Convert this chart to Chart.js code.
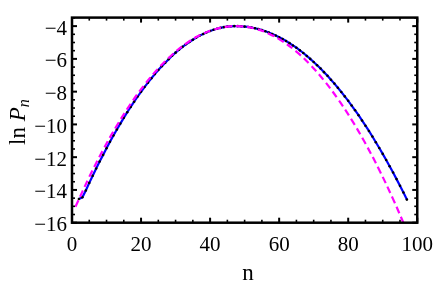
<!DOCTYPE html>
<html><head><meta charset="utf-8">
<script src="https://cdn.jsdelivr.net/npm/chart.js@4/dist/chart.umd.min.js"></script>
<style>html,body{margin:0;padding:0;background:#fff;}#wrap{width:443px;height:286px;position:relative;}</style>
</head><body><div id="wrap"><canvas id="c" width="443" height="286"></canvas></div>
<script>
// n values of the computed distribution (blue, with dots)
const blueN = [2,3,4,5,6,7,8,9,10,11,12,13,14,15,16,17,18,19,20,21,22,23,24,25,26,27,28,29,30,31,32,33,34,35,36,37,38,39,40,41,42,43,44,45,46,47,48,49,50,51,52,53,54,55,56,57,58,59,60,61,62,63,64,65,66,67,68,69,70,71,72,73,74,75,76,77,78,79,80,81,82,83,84,85,86,87,88,89,90,91,92,93,94,95,96,97];
const blueLnP = [-14.55,-14.45,-14.03,-13.57,-13.13,-12.69,-12.27,-11.86,-11.45,-11.06,-10.68,-10.31,-9.95,-9.60,-9.26,-8.93,-8.61,-8.30,-8.01,-7.72,-7.45,-7.18,-6.93,-6.68,-6.45,-6.23,-6.02,-5.81,-5.62,-5.44,-5.27,-5.11,-4.97,-4.83,-4.70,-4.58,-4.48,-4.38,-4.30,-4.22,-4.16,-4.11,-4.06,-4.03,-4.01,-4.00,-4.00,-4.01,-4.03,-4.05,-4.09,-4.13,-4.18,-4.24,-4.31,-4.39,-4.48,-4.57,-4.68,-4.79,-4.91,-5.04,-5.18,-5.32,-5.48,-5.64,-5.82,-6.00,-6.19,-6.39,-6.59,-6.81,-7.03,-7.27,-7.51,-7.76,-8.02,-8.29,-8.56,-8.85,-9.14,-9.44,-9.76,-10.08,-10.40,-10.74,-11.09,-11.44,-11.80,-12.17,-12.55,-12.94,-13.34,-13.75,-14.16,-14.59];
// Gaussian approximation (magenta dashed)
const gaussN = [1,5,9,13,17,21,25,29,33,37,41,45,49,53,57,61,65,69,73,77,81,85,89,93,97];
const gaussLnP = [-15.03,-13.21,-11.56,-10.07,-8.74,-7.58,-6.58,-5.75,-5.07,-4.56,-4.22,-4.03,-4.01,-4.15,-4.46,-4.93,-5.56,-6.36,-7.32,-8.44,-9.72,-11.17,-12.78,-14.56,-16.50];
// ticks
const xTicks = [0,20,40,60,80,100];
const xTickLabels = ['0','20','40','60','80','100'];
const xMinor = [5,10,15,25,30,35,45,50,55,65,70,75,85,90,95];
const yTicks = [-16,-14,-12,-10,-8,-6,-4];
const yTickLabels = ['\u221216','\u221214','\u221212','\u221210','\u22128','\u22126','\u22124'];
const yMinor = [-15.5,-15,-14.5,-13.5,-13,-12.5,-11.5,-11,-10.5,-9.5,-9,-8.5,-7.5,-7,-6.5,-5.5,-5,-4.5,-3.5];
const xTitle = 'n';

const FONT = "'Liberation Serif','Times New Roman',serif";

const framePlugin = {
  id: 'frame',
  afterDraw(chart) {
    const {ctx, chartArea: a, scales: {x, y}} = chart;
    ctx.save();
    ctx.strokeStyle = '#000';
    const seg = (x1, y1, x2, y2) => { ctx.beginPath(); ctx.moveTo(x1, y1); ctx.lineTo(x2, y2); ctx.stroke(); };
    ctx.lineWidth = 2;
    for (const v of xTicks) { const p = x.getPixelForValue(v); seg(p, a.bottom, p, a.bottom - 5); seg(p, a.top, p, a.top + 5); }
    for (const v of yTicks) { const p = y.getPixelForValue(v); seg(a.left, p, a.left + 5, p); seg(a.right, p, a.right - 5, p); }
    ctx.lineWidth = 1.6;
    for (const v of xMinor) { const p = x.getPixelForValue(v); seg(p, a.bottom, p, a.bottom - 3); seg(p, a.top, p, a.top + 3); }
    for (const v of yMinor) { const p = y.getPixelForValue(v); if (p < a.top || p > a.bottom) continue; seg(a.left, p, a.left + 3, p); seg(a.right, p, a.right - 3, p); }
    ctx.lineWidth = 2.5;
    ctx.strokeRect(a.left, a.top, a.right - a.left, a.bottom - a.top);
    // x title
    ctx.fillStyle = '#000';
    ctx.font = '23px ' + FONT;
    ctx.textAlign = 'center';
    ctx.textBaseline = 'alphabetic';
    ctx.fillText(xTitle, 248, 280);
    // y title: ln P_n
    ctx.translate(25, (a.top + a.bottom) / 2 + 2);
    ctx.rotate(-Math.PI / 2);
    ctx.textAlign = 'left';
    const f1 = '23px ' + FONT, f2 = 'italic 23px ' + FONT, f3 = 'italic 16px ' + FONT;
    ctx.font = f1; const w1 = ctx.measureText('ln ').width;
    ctx.font = f2; const w2 = ctx.measureText('P').width;
    ctx.font = f3; const w3 = ctx.measureText('n').width;
    let sx = -(w1 + w2 + w3) / 2;
    ctx.font = f1; ctx.fillText('ln ', sx, 0); sx += w1;
    ctx.font = f2; ctx.fillText('P', sx, 0); sx += w2;
    ctx.font = f3; ctx.fillText('n', sx, 4);
    ctx.restore();
  }
};

new Chart(document.getElementById('c'), {
  type: 'line',
  data: {
    datasets: [
      {
        data: gaussN.map((n, i) => ({x: n, y: gaussLnP[i]})),
        borderColor: '#ff00ff', borderWidth: 2.2, borderDash: [7, 4],
        pointRadius: 0, tension: 0.4, fill: false
      },
      {
        data: blueN.map((n, i) => ({x: n, y: blueLnP[i]})),
        borderColor: '#0000ff', borderWidth: 2.2,
        pointRadius: 1.3, pointBackgroundColor: '#000', pointBorderWidth: 0,
        tension: 0, fill: false
      }
    ]
  },
  options: {
    responsive: false, animation: false, devicePixelRatio: 1,
    layout: {padding: {top: 5, right: 18, bottom: 0, left: 0}},
    plugins: {legend: {display: false}, tooltip: {enabled: false}},
    scales: {
      x: {
        type: 'linear', min: 0, max: 100,
        afterBuildTicks: s => { s.ticks = xTicks.map(v => ({value: v})); },
        afterFit: s => { s.height = 63.3; },
        grid: {display: false, drawTicks: false},
        border: {display: false},
        ticks: {padding: 10, color: '#000', font: {family: FONT, size: 21}, maxRotation: 0,
          callback: (v) => xTickLabels[xTicks.indexOf(v)]}
      },
      y: {
        type: 'linear', min: -16, max: -3.48,
        afterBuildTicks: s => { s.ticks = yTicks.map(v => ({value: v})); },
        afterFit: s => { s.width = 72; },
        grid: {display: false, drawTicks: false},
        border: {display: false},
        ticks: {padding: 5, labelOffset: 3, color: '#000', font: {family: FONT, size: 21},
          callback: (v) => yTickLabels[yTicks.indexOf(v)]}
      }
    }
  },
  plugins: [framePlugin]
});
</script></body></html>
